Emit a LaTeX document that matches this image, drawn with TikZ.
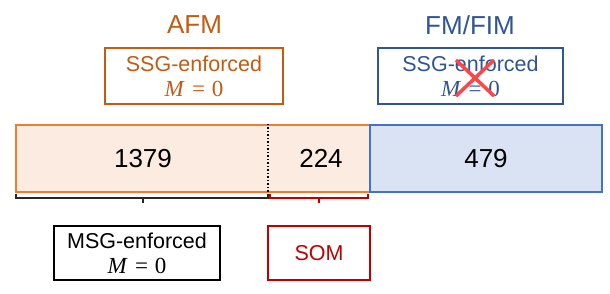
\documentclass[tikz,border=0pt]{standalone}
\usepackage{fontspec}
\setmainfont{Liberation Sans}
\newfontfamily\mathlike{Liberation Serif}
\newcommand{\mzero}{{\mathlike\fontsize{23}{25}\selectfont\itshape M\upshape\hspace{0.36em}=\hspace{0.3em}0}}
\definecolor{afmtext}{HTML}{C55A11}
\definecolor{afmline}{HTML}{ED7D31}
\definecolor{afmfill}{HTML}{FBEBE1}
\definecolor{fmtext}{HTML}{2F5597}
\definecolor{fmline}{HTML}{4472C4}
\definecolor{fmfill}{HTML}{DAE3F3}
\definecolor{somred}{HTML}{C00000}
\definecolor{xred}{HTML}{FF4545}
\begin{document}
\begin{tikzpicture}[x=1pt,y=-1pt,
  lbl/.style={font=\fontsize{26}{30}\selectfont, inner sep=0pt},
  num/.style={font=\fontsize{26}{30}\selectfont, inner sep=0pt},
  infobox/.style={draw, line width=2pt, inner sep=0pt, align=center,
                  font=\fontsize{21.5}{25}\selectfont},
  barbox/.style={line width=2pt, inner sep=0pt, minimum height=66.7pt},
  brk/.style={line width=1.8pt}]
\useasboundingbox (0,0) rectangle (610,294);
% titles
\node[lbl, text=afmtext] (afm) at (194.5,25) {AFM};
\node[lbl, text=fmtext] (fm) at (470,25) {FM/FIM};
% top boxes
\node[infobox, draw=afmtext, text=afmtext, minimum width=178pt, minimum height=56pt] (ssgafm) at (194,76) {SSG-enforced\\\mzero};
\node[infobox, draw=fmtext, text=fmtext, minimum width=185pt, minimum height=56pt] (ssgfm) at (470.5,76) {SSG-enforced\\\mzero};
\draw[xred, line width=3.5pt] (456,60) -- (494,96) (494,60) -- (456,96);
% bar
\node[barbox, draw=afmline, fill=afmfill, minimum width=354pt] (afmbar) at (193,158.3) {};
\node[barbox, draw=fmline, fill=fmfill, minimum width=232pt] (fmbar) at (486,158.3) {};
\coordinate (split) at (268,158.3);
\draw[dotted, line width=1.5pt] (split |- afmbar.north) -- (split |- afmbar.south);
\node[num] (n1379) at (143,158.3) {1379};
\node[num] (n224) at (321,158.3) {224};
\node[num] (n479) at (486,158.3) {479};
% brackets
\coordinate (bl1) at (16,193.5);
\coordinate (bl2) at (268,193.5);
\coordinate (bltip) at (143,203);
\draw[brk, black!85] (bl1) -- (bl1 |- 0,198) -- (bl2 |- 0,198) -- (bl2);
\draw[brk, black!85] (bltip |- 0,198) -- (bltip);
\coordinate (br1) at (270,193.5);
\coordinate (br2) at (368,193.5);
\coordinate (brtip) at (319,203);
\draw[brk, somred] (br1) -- (br1 |- 0,198) -- (br2 |- 0,198) -- (br2);
\draw[brk, somred] (brtip |- 0,198) -- (brtip);
% bottom boxes
\node[infobox, draw=black, minimum width=166pt, minimum height=54.5pt] (msg) at (137,253) {MSG-enforced\\\mzero};
\node[infobox, draw=somred, text=somred, minimum width=102pt, minimum height=54.5pt] (som) at (319,253) {SOM};
\end{tikzpicture}
\end{document}
